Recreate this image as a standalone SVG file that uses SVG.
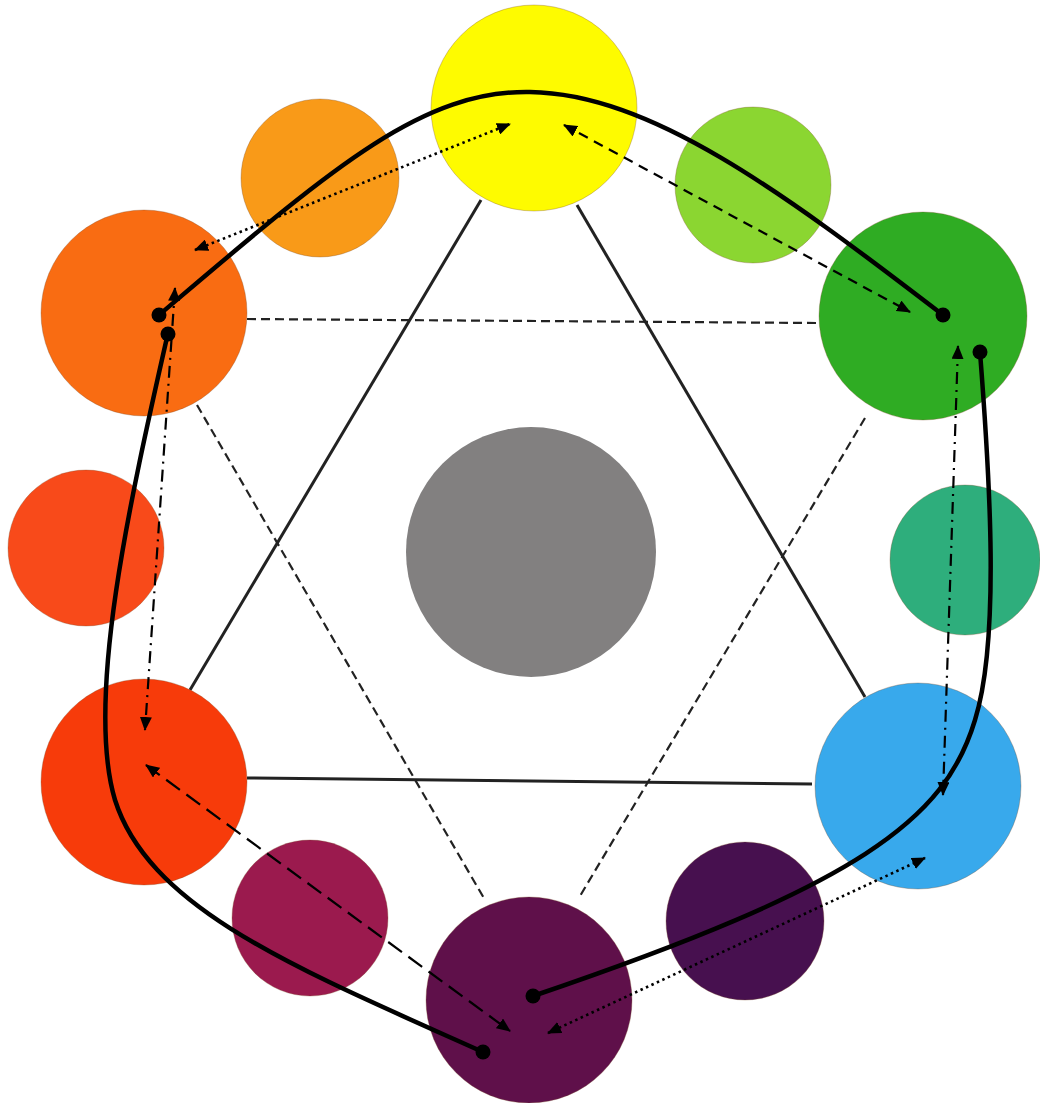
<svg xmlns="http://www.w3.org/2000/svg" width="1040" height="1103" viewBox="0 0 1040 1103">
<defs>
<marker id="ah" viewBox="0 0 14 12" refX="13" refY="6" markerWidth="14" markerHeight="12" markerUnits="userSpaceOnUse" orient="auto-start-reverse">
<path d="M0,0 L14,6 L0,12 Z" fill="#000"/>
</marker>
<style>
.sw{stroke:#7a4a2a;stroke-width:0.8;stroke-opacity:0.4}
.tri{fill:none;stroke:#222;stroke-width:3}
.trid{fill:none;stroke:#222;stroke-width:2.2;stroke-dasharray:9 5}
.curve{fill:none;stroke:#000;stroke-width:4.5;stroke-linecap:round}
.dot{fill:#000}
.dotted{fill:none;stroke:#000;stroke-width:2.6;stroke-dasharray:2.5 3.5;marker-start:url(#ah);marker-end:url(#ah)}
.dashed{fill:none;stroke:#000;stroke-width:2.2;stroke-dasharray:10 7;marker-start:url(#ah);marker-end:url(#ah)}
.ldashed{fill:none;stroke:#000;stroke-width:2.2;stroke-dasharray:17 8;marker-start:url(#ah);marker-end:url(#ah)}
.dashdot{fill:none;stroke:#000;stroke-width:2.2;stroke-dasharray:12 6 2 6;marker-start:url(#ah);marker-end:url(#ah)}
</style>
</defs>
<rect width="1040" height="1103" fill="#ffffff"/>
<g id="lines">
<line class="tri" x1="481" y1="200" x2="190" y2="690"/>
<line class="tri" x1="577" y1="205" x2="865" y2="697"/>
<line class="tri" x1="247" y1="778" x2="812" y2="784"/>
<line class="trid" x1="247" y1="319" x2="818" y2="323"/>
<line class="trid" x1="197" y1="405" x2="485" y2="900"/>
<line class="trid" x1="865" y1="418" x2="580" y2="896"/>
</g>
<g id="yellow"><circle class="sw" cx="534" cy="108" r="103" fill="#fefb00"/></g>
<g id="yellow-orange"><circle class="sw" cx="320" cy="178" r="79" fill="#f99a18"/></g>
<g id="orange"><circle class="sw" cx="144" cy="313" r="103" fill="#f96c12"/></g>
<g id="red-orange"><circle class="sw" cx="86" cy="548" r="78" fill="#f84a1a"/></g>
<g id="red"><circle class="sw" cx="144" cy="782" r="103" fill="#f73b0a"/></g>
<g id="red-violet"><circle class="sw" cx="310" cy="918" r="78" fill="#9b1a4e"/></g>
<g id="violet"><circle class="sw" cx="529" cy="1000" r="103" fill="#5f104a"/></g>
<g id="blue-violet"><circle class="sw" cx="745" cy="921" r="79" fill="#47104f"/></g>
<g id="blue"><circle class="sw" cx="918" cy="786" r="103" fill="#38a9ec"/></g>
<g id="blue-green"><circle class="sw" cx="965" cy="560" r="75" fill="#2eae7c"/></g>
<g id="green"><circle class="sw" cx="923" cy="316" r="104" fill="#2fac23"/></g>
<g id="yellow-green"><circle class="sw" cx="753" cy="185" r="78" fill="#8bd631"/></g>
<g id="gray"><circle cx="531" cy="552" r="125" fill="#828080"/></g>
<g id="connectors">
<path class="curve" d="M159,315 C330,170 420,90 530,92 C650,94 780,190 943,315"/>
<path class="curve" d="M168,333 C130,500 85,700 115,800 C150,910 300,970 483,1052"/>
<path class="curve" d="M980,352 C990,480 1000,640 975,720 C945,820 860,885 533,996"/>
<path class="dotted" d="M195,250 L510,124"/>
<path class="dashed" d="M564,125 L910,312"/>
<path class="dashdot" d="M175,288 L145,730"/>
<path class="dashdot" d="M958,346 L943,795"/>
<path class="ldashed" d="M146,765 L510,1031"/>
<path class="dotted" d="M548,1033 L925,858"/>
<circle class="dot" cx="159" cy="315" r="7.5"/>
<circle class="dot" cx="168" cy="334" r="7.5"/>
<circle class="dot" cx="943" cy="315" r="7.5"/>
<circle class="dot" cx="980" cy="352" r="7.5"/>
<circle class="dot" cx="483" cy="1052" r="7.5"/>
<circle class="dot" cx="533" cy="996" r="7.5"/>
</g>
</svg>
